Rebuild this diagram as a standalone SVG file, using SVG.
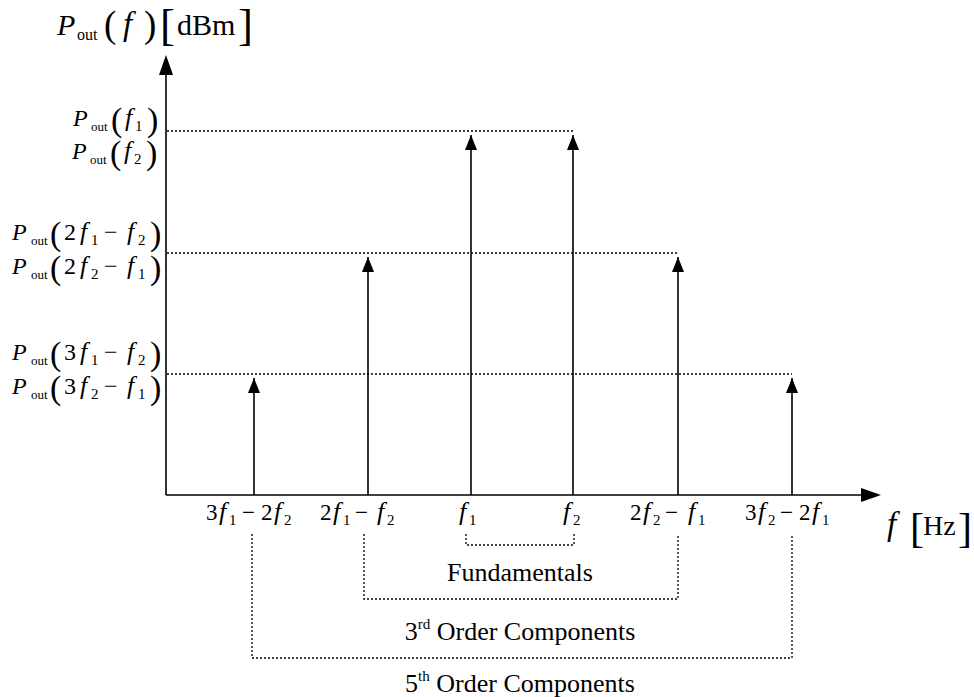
<svg xmlns="http://www.w3.org/2000/svg" width="974" height="697" viewBox="0 0 974 697">
<style>
text{font-family:"Liberation Serif","Times New Roman",serif;fill:#000}
.i{font-style:italic}
.f{font-style:italic;font-size:26px}
.s{font-size:15px}
.o{font-size:13px}
.p{font-size:34px}
.ax{stroke:#000;stroke-width:1.6;fill:none}
.dot{stroke:#000;stroke-width:1.3;fill:none;stroke-dasharray:2 2}
.lbl{font-size:24px}
.tk{font-size:23px}
.cap{font-size:26px}
</style>
<defs>
<marker id="ah" markerWidth="12" markerHeight="15" refX="6" refY="0" orient="0" markerUnits="userSpaceOnUse" viewBox="0 0 12 15">
<path d="M0,15 L6,0 L12,15 Z" fill="#000"/>
</marker>
</defs>
<g id="axes">
<line class="ax" x1="166" y1="495" x2="166" y2="72"/>
<path d="M159,75 L166,55 L173,75 Z" fill="#000"/>
<line class="ax" x1="166" y1="495" x2="864" y2="495"/>
<path d="M861,488 L881,495 L861,502 Z" fill="#000"/>
</g>
<g id="connectors">
<line class="dot" x1="167" y1="131" x2="573" y2="131"/>
<line class="dot" x1="167" y1="253" x2="678" y2="253"/>
<line class="dot" x1="167" y1="374" x2="792" y2="374"/>
<line class="ax" x1="254" y1="495" x2="254" y2="378" marker-end="url(#ah)"/>
<line class="ax" x1="368" y1="495" x2="368" y2="257" marker-end="url(#ah)"/>
<line class="ax" x1="471" y1="495" x2="471" y2="135" marker-end="url(#ah)"/>
<line class="ax" x1="573" y1="495" x2="573" y2="135" marker-end="url(#ah)"/>
<line class="ax" x1="678" y1="495" x2="678" y2="257" marker-end="url(#ah)"/>
<line class="ax" x1="792" y1="495" x2="792" y2="378" marker-end="url(#ah)"/>
<path class="dot" d="M466,534 V545 H574 V534"/>
<path class="dot" d="M364,534 V599 H678 V534"/>
<path class="dot" d="M252,534 V658 H792 V534"/>
</g>
<g id="title">
<text y="35"><tspan class="i" x="57" font-size="30">P</tspan><tspan x="77" y="40" font-size="16">out</tspan><tspan x="104" y="37" font-size="37">(</tspan><tspan class="i" x="123" y="35" font-size="33">f</tspan><tspan x="144" y="37" font-size="37">)</tspan><tspan x="160" y="40" font-size="45">[</tspan><tspan x="177" y="35" font-size="30">dBm</tspan><tspan x="238" y="40" font-size="45">]</tspan></text>
</g>
<g id="xlabel">
<text y="535"><tspan class="i" x="887" font-size="33">f</tspan><tspan x="910" y="542" font-size="42">[</tspan><tspan x="923" y="535" font-size="28">Hz</tspan><tspan x="958" y="542" font-size="42">]</tspan></text>
</g>
<g id="ylabels" class="lbl">
<text y="126"><tspan class="i" x="73">P</tspan><tspan class="o" x="91" y="131">out</tspan><tspan class="p" x="111" y="131">(</tspan><tspan class="f" x="125" y="126">f</tspan><tspan class="s" x="135" y="131">1</tspan><tspan class="p" x="147" y="131">)</tspan></text>
<text y="159"><tspan class="i" x="72">P</tspan><tspan class="o" x="90" y="164">out</tspan><tspan class="p" x="110" y="164">(</tspan><tspan class="f" x="124" y="159">f</tspan><tspan class="s" x="134" y="164">2</tspan><tspan class="p" x="146" y="164">)</tspan></text>
<text y="240"><tspan class="i" x="12">P</tspan><tspan class="o" x="31" y="245">out</tspan><tspan class="p" x="50" y="245">(</tspan><tspan x="64" y="240">2</tspan><tspan class="f" x="80" y="240">f</tspan><tspan class="s" x="91" y="245">1</tspan><tspan x="104" y="240">−</tspan><tspan class="f" x="127" y="240">f</tspan><tspan class="s" x="138" y="245">2</tspan><tspan class="p" x="150" y="245">)</tspan></text>
<text y="274"><tspan class="i" x="12">P</tspan><tspan class="o" x="31" y="279">out</tspan><tspan class="p" x="50" y="279">(</tspan><tspan x="64" y="274">2</tspan><tspan class="f" x="80" y="274">f</tspan><tspan class="s" x="91" y="279">2</tspan><tspan x="104" y="274">−</tspan><tspan class="f" x="127" y="274">f</tspan><tspan class="s" x="138" y="279">1</tspan><tspan class="p" x="150" y="279">)</tspan></text>
<text y="360"><tspan class="i" x="12">P</tspan><tspan class="o" x="31" y="365">out</tspan><tspan class="p" x="50" y="365">(</tspan><tspan x="64" y="360">3</tspan><tspan class="f" x="80" y="360">f</tspan><tspan class="s" x="91" y="365">1</tspan><tspan x="104" y="360">−</tspan><tspan class="f" x="127" y="360">f</tspan><tspan class="s" x="138" y="365">2</tspan><tspan class="p" x="150" y="365">)</tspan></text>
<text y="394"><tspan class="i" x="12">P</tspan><tspan class="o" x="31" y="399">out</tspan><tspan class="p" x="50" y="399">(</tspan><tspan x="64" y="394">3</tspan><tspan class="f" x="80" y="394">f</tspan><tspan class="s" x="91" y="399">2</tspan><tspan x="104" y="394">−</tspan><tspan class="f" x="127" y="394">f</tspan><tspan class="s" x="138" y="399">1</tspan><tspan class="p" x="150" y="399">)</tspan></text>
</g>
<g id="ticks" class="tk">
<text y="520"><tspan x="206">3</tspan><tspan class="f" x="219">f</tspan><tspan class="s" x="229" y="525">1</tspan><tspan x="242" y="520">−</tspan><tspan x="261">2</tspan><tspan class="f" x="274">f</tspan><tspan class="s" x="284" y="525">2</tspan></text>
<text y="520"><tspan x="320">2</tspan><tspan class="f" x="333">f</tspan><tspan class="s" x="343" y="525">1</tspan><tspan x="355" y="520">−</tspan><tspan class="f" x="377">f</tspan><tspan class="s" x="387" y="525">2</tspan></text>
<text y="520"><tspan class="f" x="459">f</tspan><tspan class="s" x="469" y="525">1</tspan></text>
<text y="520"><tspan class="f" x="563">f</tspan><tspan class="s" x="573" y="525">2</tspan></text>
<text y="520"><tspan x="630">2</tspan><tspan class="f" x="643">f</tspan><tspan class="s" x="653" y="525">2</tspan><tspan x="665" y="520">−</tspan><tspan class="f" x="688">f</tspan><tspan class="s" x="698" y="525">1</tspan></text>
<text y="520"><tspan x="745">3</tspan><tspan class="f" x="758">f</tspan><tspan class="s" x="768" y="525">2</tspan><tspan x="780" y="520">−</tspan><tspan x="799">2</tspan><tspan class="f" x="812">f</tspan><tspan class="s" x="822" y="525">1</tspan></text>
</g>
<g id="captions" class="cap" text-anchor="middle">
<text x="520" y="581">Fundamentals</text>
<text x="520" y="640">3<tspan font-size="15" dy="-11">rd</tspan><tspan dy="11"> Order Components</tspan></text>
<text x="520" y="692">5<tspan font-size="15" dy="-11">th</tspan><tspan dy="11"> Order Components</tspan></text>
</g>
</svg>
